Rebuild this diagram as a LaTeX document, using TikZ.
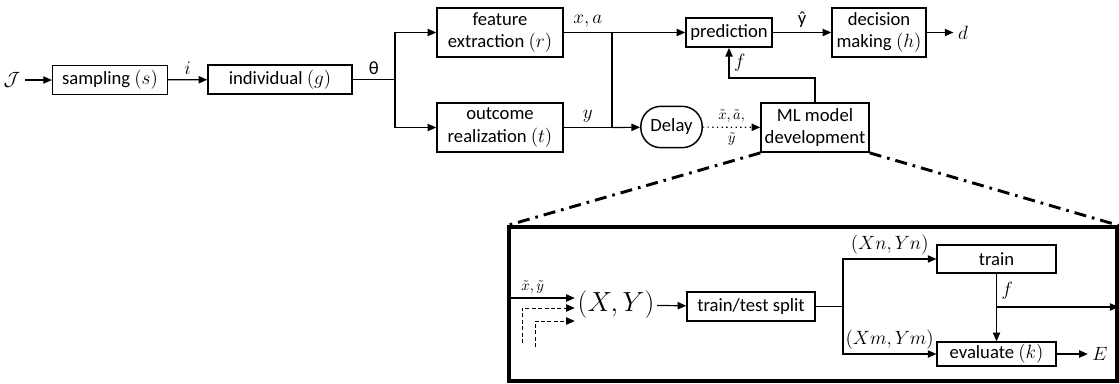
\documentclass[tikz,border=0pt]{standalone}
\usepackage{amsmath}
\usepackage{fontspec}
\setmainfont{Carlito}
\usetikzlibrary{arrows.meta}
\definecolor{flowink}{HTML}{000000}

\begin{document}
\begin{tikzpicture}[x=0.75pt, y=-0.75pt, >={Triangle[length=6.5pt,width=5.5pt]},
                    every node/.style={flowink, font=\fontsize{14}{17}\selectfont},
                    flow/.style={flowink, line width=0.9pt},
                    block/.style={draw=flowink, line width=1.1pt, inner sep=0pt, align=center},
                    small/.style={font=\fontsize{10.5}{12}\selectfont},
                    dashdot/.style={flowink, line width=2.2pt,
                                    dash pattern=on 9pt off 4.5pt on 2pt off 4.5pt},
                    feed/.style={flow, line width=0.7pt, dash pattern=on 3pt off 1.8pt}]

  \useasboundingbox (0,0) rectangle (1119,383);

  %% 主流程: 抽樣 -> 個體 -> 特徵 / 結果
  \node (pop) at (12,80) {$\mathcal{J}$};
  \node[block, minimum width=86pt, minimum height=22pt] (samp) at (110,80) {sampling $(s)$};
  \node[block, minimum width=108pt, minimum height=22pt] (indiv) at (280,79.5) {individual $(g)$};
  \node[block, minimum width=94.5pt, minimum height=37pt] (feat) at (500,32.5) {feature\\extraction $(r)$};
  \node[block, minimum width=94.5pt, minimum height=37pt] (outc) at (500,127.5) {outcome\\realization $(t)$};
  \coordinate (jtheta) at (395,79.5);

  \draw[flow, ->] (pop) -- (samp);
  \draw[flow, ->] (samp) -- node[above] {$i$} (indiv);
  \draw[flow] (indiv) -- node[above] {θ} (jtheta);
  \draw[flow, ->] (jtheta) |- (feat);
  \draw[flow, ->] (jtheta) |- (outc);

  %% 預測與決策
  \node[block, minimum width=64.5pt, minimum height=22pt] (pred) at (729,32.5) {prediction};
  \node[block, minimum width=70.5pt, minimum height=37pt] (dec) at (879,32.5) {decision\\making $(h)$};
  \node (dout) at (963,32.5) {$d$};
  \coordinate (jxa) at (612,32.5);
  \coordinate (jy) at (612,127.5);

  \draw[flow] (feat) -- node[above] {$x,a$} (jxa);
  \draw[flow, ->] (jxa) -- (pred);
  \draw[flow] (outc) -- node[above] {$y$} (jy);
  \draw[flow] (jxa) -- (jy);
  \draw[flow, ->] (pred) -- node[above] {ŷ} (dec);
  \draw[flow, ->] (dec) -- (dout);

  %% 延遲與模型開發
  \node[block, rounded corners=15pt, minimum width=46pt, minimum height=31pt] (delay) at (671.5,127) {Delay};
  \node[block, minimum width=81pt, minimum height=37pt] (mldev) at (815,127.5) {ML model\\development};
  \coordinate (fturn) at (780,78);

  \draw[flow, ->] (jy) -- (delay);
  \draw[flow, ->, dash pattern=on 1pt off 2.5pt] (delay) --
    node[above, small] {$\tilde{x},\tilde{a},$}
    node[below, small] {$\tilde{y}$} (mldev);
  \draw[flow, ->] (mldev) |- (fturn) -| node[pos=0.75, right] {$f$} (pred);

  %% 放大框: 模型開發細節
  \node[draw=flowink, line width=2.4pt, inner sep=0pt, minimum width=456pt, minimum height=115.5pt]
    (zoom) at (813,304) {};
  \draw[dashdot] (mldev.south west) -- (zoom.north west);
  \draw[dashdot] (mldev.south east) -- (zoom.north east);

  \node[inner sep=2pt, font=\fontsize{20}{24}\selectfont] (xy) at (616,305) {$(X,Y)$};
  \node[block, minimum width=96pt, minimum height=22pt] (split) at (751,306.5) {train/test split};
  \node[block, minimum width=89pt, minimum height=21pt] (train) at (996.5,259) {train};
  \node[block, minimum width=89pt, minimum height=18pt] (eval) at (996.5,354) {evaluate $(k)$};
  \node (eout) at (1100,354) {$E$};
  \coordinate (inx) at (510,298);
  \coordinate (dash1) at (522,343);
  \coordinate (dash2) at (535,347);
  \coordinate (jsplit) at (843,306.5);
  \coordinate (jf) at (996.5,307);

  \draw[flow, ->] (inx) -- node[pos=0.35, above, small] {$\tilde{x},\tilde{y}$}
    (inx -| xy.west);
  \draw[feed, ->] (dash1) |- ([yshift=-2.25pt]xy.west);
  \draw[feed, ->] (dash2) |- ([yshift=-12pt]xy.west);
  \draw[flow, ->] (xy) -- (split);
  \draw[flow] (split) -- (jsplit);
  \draw[flow, ->] (jsplit) |- node[pos=0.75, above] {$(Xn,Yn)$} (train);
  \draw[flow, ->] (jsplit) |- node[pos=0.75, above] {$(Xm,Ym)$} (eval);
  \draw[flow, ->] (train) -- node[pos=0.25, right] {$f$} (eval);
  \draw[flow, ->] (jf) -- (jf -| zoom.east);
  \draw[flow, ->] (eval) -- (eout);

\end{tikzpicture}
\end{document}
